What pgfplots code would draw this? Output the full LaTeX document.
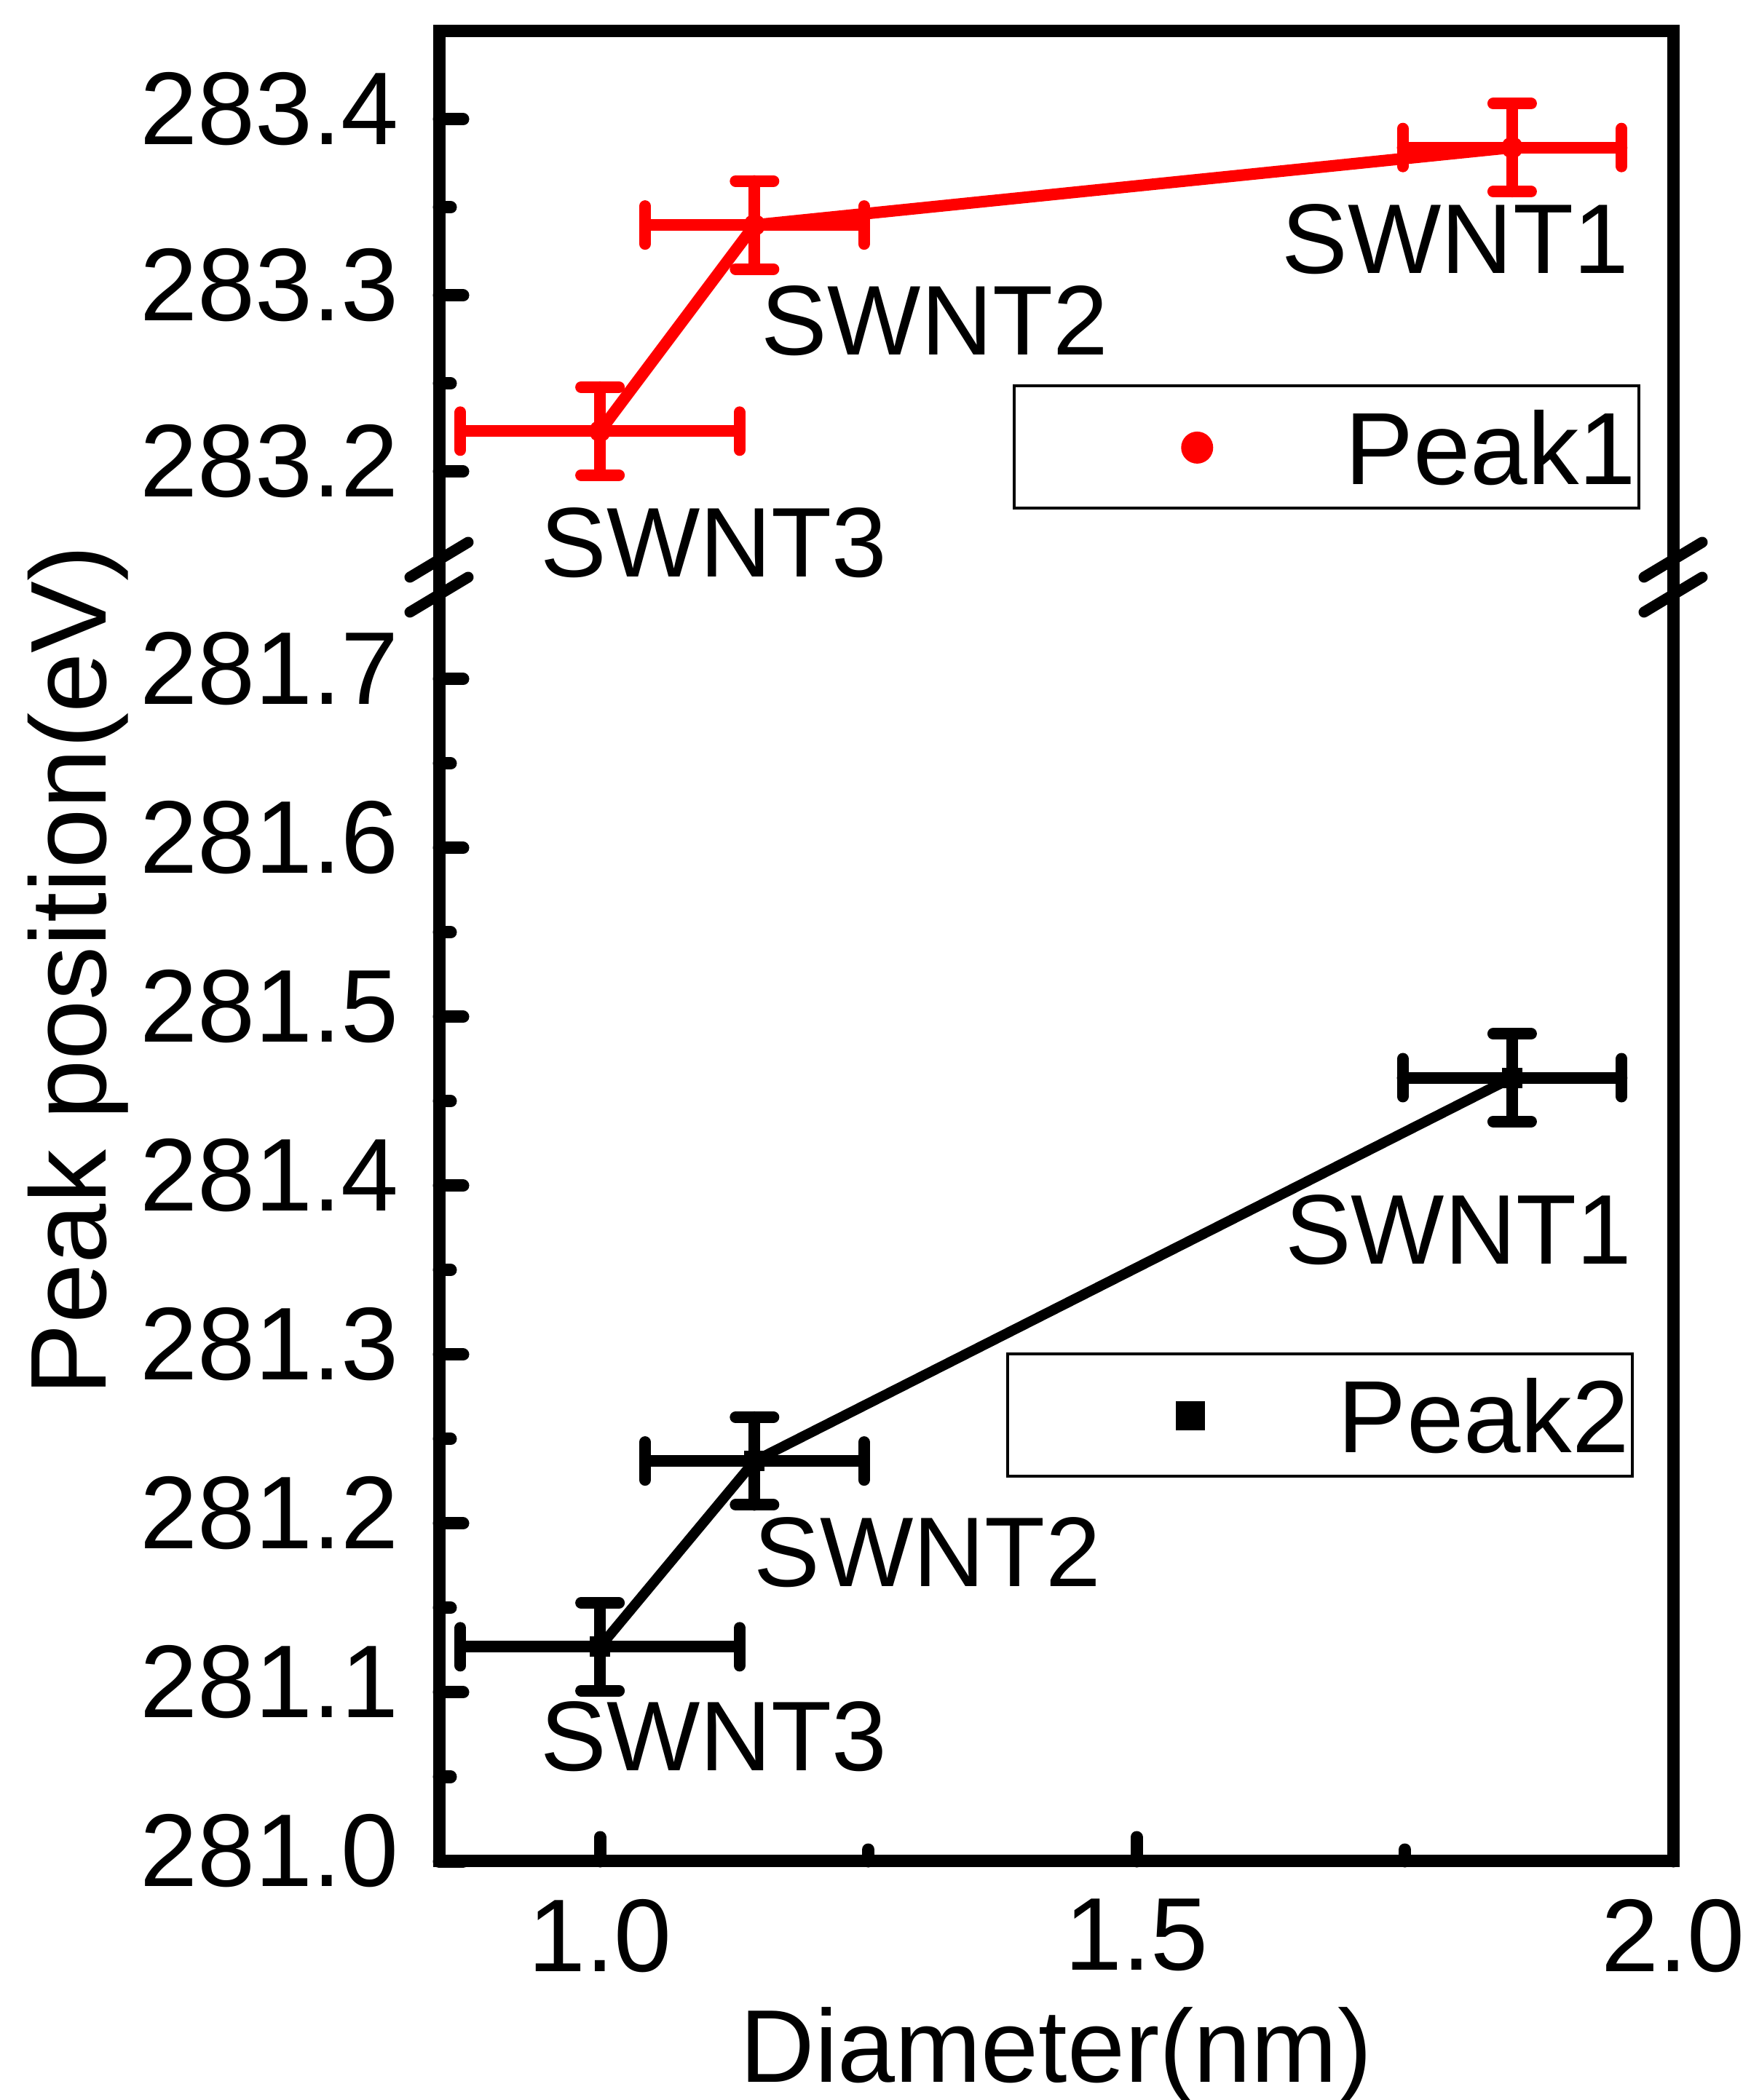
\documentclass[border=0pt]{standalone}
\usepackage{fontspec}
\setmainfont{Liberation Sans}
\usepackage{pgfplots}
\usepackage{pgfplotstable}
\pgfplotsset{compat=1.18}

% diameter, peak position, x error, y error
\pgfplotstableread{
x     y        ex    ey
1.000 283.223  0.130 0.025
1.144 283.340  0.102 0.025
1.850 283.384  0.102 0.025
}\peakone
\pgfplotstableread{
x     y        ex    ey
1.000 281.127  0.130 0.026
1.144 281.237  0.102 0.026
1.850 281.464  0.102 0.026
}\peaktwo

\pgfplotsset{
  brk/.style={
    scale only axis, width=169.5pt, clip=false,
    xmin=0.85, xmax=2.0,
    axis line style={draw=none},
    tick align=inside, ytick pos=left, xtick pos=bottom,
    major tick length=3.3pt, minor tick length=1.6pt,
    tick style={black, line width=1.7pt, line cap=round},
    tick label style={font=\fontsize{14.2}{16}\selectfont},
    /pgf/number format/assume math mode=true,
    yticklabel style={inner sep=0pt, xshift=-5.3pt, yshift=1.4pt,
      /pgf/number format/.cd, fixed, fixed zerofill, precision=1},
    xticklabel style={inner sep=0pt, yshift=-5pt,
      /pgf/number format/.cd, fixed, fixed zerofill, precision=1},
    minor y tick num=1,
    legend style={draw=black, line width=0.4pt, inner xsep=0.4pt, inner ysep=0pt,
      nodes={inner sep=0pt, text depth=0.15em}, font=\fontsize{14.1}{16}\selectfont},
  },
  ebars/.style={
    error bars/.cd, x dir=both, x explicit, y dir=both, y explicit,
    error bar style={line width=1.6pt, line cap=round, #1},
    error mark options={rotate=90, mark size=2.6pt, line width=1.6pt, line cap=round, #1},
  },
}

\begin{document}
\begin{tikzpicture}[font=\fontsize{14.2}{16}\selectfont]
\path[use as bounding box] (0,0) rectangle (239.3pt,288.5pt);

% upper part of the broken axis
\begin{axis}[brk, name=top, at={(60.3pt,211.6pt)}, anchor=south west,
  height=72.6pt, ymin=283.15, ymax=283.45, ytick={283.2,283.3,283.4},
  xtick=\empty,
  legend image code/.code={\path[draw=none, fill=none] (-24.7pt,-7.6pt) rectangle (20.3pt,9.2pt);
    \draw[#1, mark size=2pt] plot coordinates {(0pt,0.7pt)};},
  legend style={at={(0.9735,0.332)}, anchor=north east}]
\addplot[red, line width=1.6pt, mark=*, mark size=1.3pt,
  mark options={line width=0.4pt}, ebars={red}]
  table[x=x, y=y, x error=ex, y error=ey] {\peakone};
\addlegendentry{Peak1\hspace{4.7pt}}
\node[inner sep=0pt, font=\fontsize{13.6}{15}\selectfont] at (axis cs:1.797,283.332) {SWNT1};
\node[inner sep=0pt, font=\fontsize{13.6}{15}\selectfont] at (axis cs:1.312,283.2855) {SWNT2};
\node[inner sep=0pt, font=\fontsize{13.6}{15}\selectfont] at (axis cs:1.106,283.1595) {SWNT3};
\end{axis}

% lower part
\begin{axis}[brk, name=bot, at={(60.3pt,32.8pt)}, anchor=south west,
  height=174pt, ymin=281.0, ymax=281.75,
  ytick={281.0,281.1,281.2,281.3,281.4,281.5,281.6,281.7},
  xtick={1.0,1.5,2.0}, minor x tick num=1,
  xlabel={Diameter(nm)},
  xlabel style={at={(axis description cs:0.5,0)}, anchor=base, yshift=-30.3pt,
    font=\fontsize{14.2}{16}\selectfont},
  legend image code/.code={\path[draw=none, fill=none] (-24.7pt,-7.6pt) rectangle (20.3pt,9.2pt);
    \draw[#1, mark size=1.8pt] plot coordinates {(0pt,0.7pt)};},
  legend style={at={(0.968,0.4017)}, anchor=north east}]
\addplot[black, line width=1.4pt, mark=square*, mark size=1.2pt,
  mark options={line width=0.4pt}, ebars={black}]
  table[x=x, y=y, x error=ex, y error=ey] {\peaktwo};
\addlegendentry{Peak2\hspace{4.7pt}}
\node[inner sep=0pt, font=\fontsize{13.6}{15}\selectfont] at (axis cs:1.80,281.374) {SWNT1};
\node[inner sep=0pt, font=\fontsize{13.6}{15}\selectfont] at (axis cs:1.305,281.183) {SWNT2};
\node[inner sep=0pt, font=\fontsize{13.6}{15}\selectfont] at (axis cs:1.106,281.074) {SWNT3};
\end{axis}

% frame and break marks
\draw[line width=1.7pt] (top.north west) rectangle (bot.south east);
\foreach \a in {top.south west, top.south east, bot.north west, bot.north east}
  \draw[line width=1.5pt, line cap=round] ([shift={(-4pt,-2.4pt)}]\a) -- ([shift={(4pt,2.4pt)}]\a);

\node[rotate=90, anchor=base, font=\fontsize{14.8}{16}\selectfont] at (14.6pt,155.2pt) {Peak position(eV)};
\end{tikzpicture}
\end{document}
